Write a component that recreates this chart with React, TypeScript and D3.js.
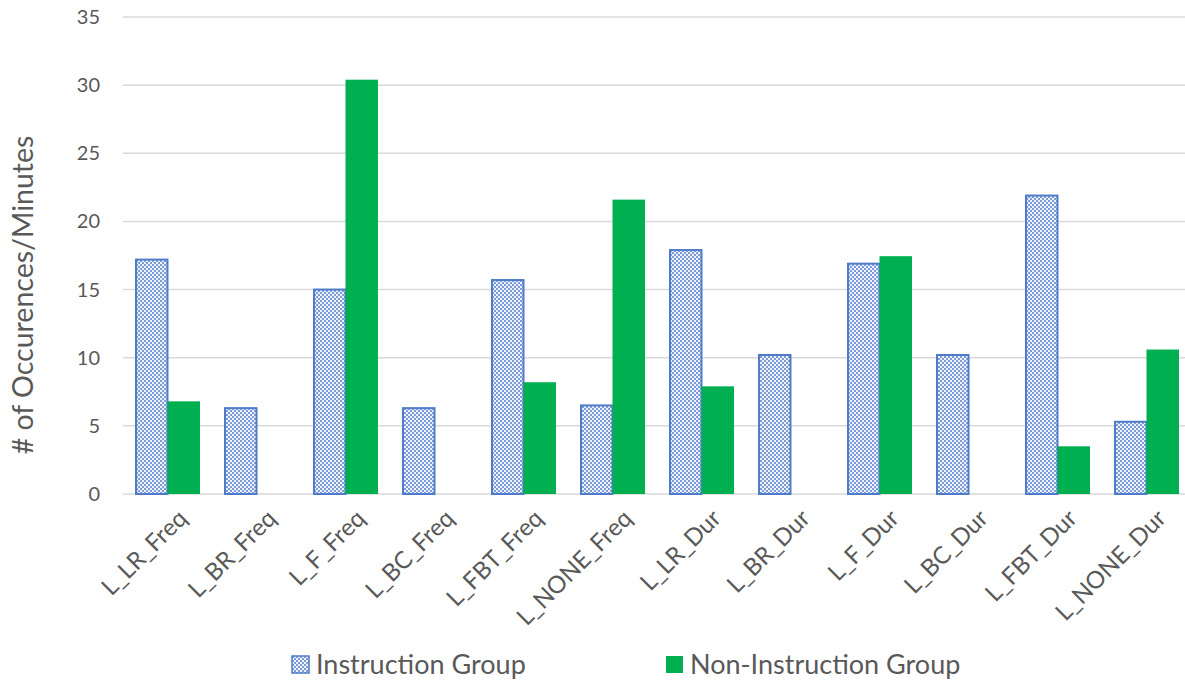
import { useEffect, useRef } from "react";
import * as d3 from "d3";

const categories = [
  "L_LR_Freq", "L_BR_Freq", "L_F_Freq", "L_BC_Freq", "L_FBT_Freq", "L_NONE_Freq",
  "L_LR_Dur", "L_BR_Dur", "L_F_Dur", "L_BC_Dur", "L_FBT_Dur", "L_NONE_Dur",
];
const instruction = [17.2, 6.3, 15.0, 6.3, 15.7, 6.5, 17.9, 10.2, 16.9, 10.2, 21.9, 5.3];
const nonInstruction = [6.8, 0, 30.4, 0, 8.2, 21.6, 7.9, 0, 17.45, 0, 3.5, 10.6];
const yTicks = [0, 5, 10, 15, 20, 25, 30, 35];
const seriesNames = ["Instruction Group", "Non-Instruction Group"];

const W = 1185;
const H = 681;
const FONT = "Lato, 'Open Sans', sans-serif";

const App = () => {
  const ref = useRef<SVGSVGElement>(null);

  useEffect(() => {
    const svg = d3.select(ref.current);
    svg.selectAll("*").remove();

    const left = 123;
    const step = 89;
    const top = 17;
    const bottom = 494;

    const x = d3
      .scaleBand()
      .domain(categories)
      .range([left, left + step * categories.length])
      .paddingInner(24 / 89)
      .paddingOuter(12 / 89);
    const y = d3.scaleLinear().domain([0, 35]).range([bottom, top]);

    const defs = svg.append("defs");
    const pat = defs
      .append("pattern")
      .attr("id", "check")
      .attr("width", 4)
      .attr("height", 4)
      .attr("patternUnits", "userSpaceOnUse");
    pat.append("rect").attr("width", 4).attr("height", 4).attr("fill", "#eef2fa");
    pat.append("rect").attr("width", 2).attr("height", 2).attr("fill", "#7d9bd6");
    pat.append("rect").attr("x", 2).attr("y", 2).attr("width", 2).attr("height", 2).attr("fill", "#7d9bd6");

    // gridlines
    svg
      .append("g")
      .selectAll("line")
      .data(yTicks)
      .join("line")
      .attr("x1", left)
      .attr("x2", W)
      .attr("y1", (d) => y(d))
      .attr("y2", (d) => y(d))
      .attr("stroke", "#d9d9d9")
      .attr("stroke-width", 1.5);

    // y tick labels
    svg
      .append("g")
      .selectAll("text")
      .data(yTicks)
      .join("text")
      .attr("x", 100)
      .attr("y", (d) => y(d))
      .attr("dy", "0.35em")
      .attr("text-anchor", "end")
      .attr("fill", "#595959")
      .attr("font-family", FONT)
      .attr("font-size", 20)
      .text((d) => d);

    const bw = x.bandwidth() / 2;

    svg
      .append("g")
      .selectAll("rect")
      .data(instruction)
      .join("rect")
      .attr("x", (_, i) => (x(categories[i]) as number) + 1)
      .attr("y", (d) => y(d))
      .attr("width", bw - 1)
      .attr("height", (d) => bottom - y(d))
      .attr("fill", "url(#check)")
      .attr("stroke", "#4f7cc9")
      .attr("stroke-width", 2);

    svg
      .append("g")
      .selectAll("rect")
      .data(nonInstruction)
      .join("rect")
      .attr("x", (_, i) => (x(categories[i]) as number) + bw)
      .attr("y", (d) => y(d))
      .attr("width", bw)
      .attr("height", (d) => bottom - y(d))
      .attr("fill", "#00b050");

    // x labels
    svg
      .append("g")
      .selectAll("text")
      .data(categories)
      .join("text")
      .attr("transform", (d) => `translate(${(x(d) as number) + x.bandwidth() / 2 + 9},${bottom + 14}) rotate(-45)`)
      .attr("text-anchor", "end")
      .attr("dy", "0.7em")
      .attr("fill", "#595959")
      .attr("font-family", FONT)
      .attr("font-size", 24)
      .text((d) => d);

    // axis title
    svg
      .append("text")
      .attr("transform", `translate(33,295) rotate(-90)`)
      .attr("text-anchor", "middle")
      .attr("fill", "#595959")
      .attr("font-family", FONT)
      .attr("font-size", 28.5)
      .text("# of Occurences/Minutes");

    // legend
    const lg = svg.append("g");
    const legendX = [292, 666];
    seriesNames.forEach((name, i) => {
      lg.append("rect")
        .attr("x", legendX[i])
        .attr("y", 656)
        .attr("width", 17)
        .attr("height", 17)
        .attr("fill", i === 0 ? "url(#check)" : "#00b050")
        .attr("stroke", i === 0 ? "#4f7cc9" : "none")
        .attr("stroke-width", 1.5);
      lg.append("text")
        .attr("x", legendX[i] + 24)
        .attr("y", 665)
        .attr("dy", "0.35em")
        .attr("fill", "#595959")
        .attr("font-family", FONT)
        .attr("font-size", 27)
        .text(name);
    });
  }, []);

  return <svg ref={ref} width={W} height={H} style={{ position: "absolute", left: 0, top: 0 }} />;
};

export default App;
